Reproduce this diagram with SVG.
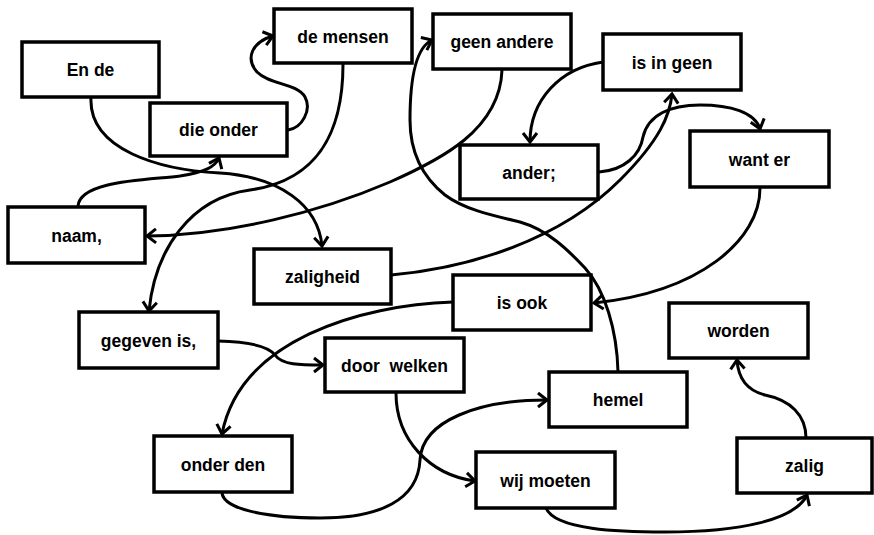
<svg xmlns="http://www.w3.org/2000/svg" width="874" height="535" viewBox="0 0 874 535">
<style>
.box{fill:#fff;stroke:#000;stroke-width:3.5}
.lbl{font-family:"Liberation Sans",Arial,sans-serif;font-weight:bold;font-size:17.5px;fill:#000;text-anchor:middle;white-space:pre}
.c{fill:none;stroke:#000;stroke-width:3;marker-end:url(#ah)}
</style>
<defs>
<marker id="ah" markerUnits="userSpaceOnUse" markerWidth="20" markerHeight="20" refX="0" refY="0" viewBox="-12 -10 14 20" orient="auto">
<path d="M-9 -7 L0 0 L-9 7" fill="none" stroke="#000" stroke-width="3"/>
</marker>
</defs>
<rect width="874" height="535" fill="#fff"/>
<g id="connectors">
<path class="c" d="M91 97 C88 150,160 170,220 173 C280 177,318 205,322 246"/>
<path class="c" d="M391 275 C470 268,560 240,620 180 C660 140,670 115,672 94"/>
<path class="c" d="M603 62 C560 68,530 100,530 142"/>
<path class="c" d="M599 172 C625 170,640 155,643 137 C648 115,670 105,700 105 C730 105,755 112,760 129"/>
<path class="c" d="M760 188 C760 240,700 292,594 303"/>
<path class="c" d="M453 302 C360 305,240 340,222 434"/>
<path class="c" d="M222 493 C224 510,270 518,320 518 C380 518,418 500,420 460 C422 420,480 400,547 400"/>
<path class="c" d="M618 372 C617 330,605 290,585 268 C568 250,548 230,520 222 C495 216,465 210,445 195 C420 175,410 150,410 120 C410 80,415 48,432 40"/>
<path class="c" d="M502 70 C500 130,440 160,390 182 C320 212,230 235,147 236"/>
<path class="c" d="M78 206 C80 180,150 180,180 176 C205 172,215 167,219 158"/>
<path class="c" d="M288 130 C302 128,312 110,305 97 C297 83,270 85,257 72 C245 58,252 42,273 36"/>
<path class="c" d="M343 64 C343 130,320 180,250 190 C190 198,155 250,149 311"/>
<path class="c" d="M218 341 C255 342,270 348,275 355 C282 365,300 365,323 365"/>
<path class="c" d="M396 393 C396 440,430 475,475 481"/>
<path class="c" d="M546 508 C555 530,620 532,665 532 C740 532,795 520,807 495"/>
<path class="c" d="M806 438 C806 415,790 400,765 395 C745 390,738 375,737 360"/>
</g>
<g id="n-en-de"><rect class="box" x="22" y="42" width="137" height="55"/><text class="lbl" x="90.5" y="76">En de</text></g>
<g id="n-die-onder"><rect class="box" x="150" y="103" width="137" height="53"/><text class="lbl" x="218.5" y="136">die onder</text></g>
<g id="n-de-mensen"><rect class="box" x="274" y="9" width="138" height="54"/><text class="lbl" x="343" y="42.5">de mensen</text></g>
<g id="n-geen-andere"><rect class="box" x="433" y="14" width="138" height="55"/><text class="lbl" x="502" y="48">geen andere</text></g>
<g id="n-is-in-geen"><rect class="box" x="603" y="34" width="138" height="56"/><text class="lbl" x="672" y="68.5">is in geen</text></g>
<g id="n-ander"><rect class="box" x="460" y="145" width="138" height="54"/><text class="lbl" x="529" y="178.5">ander;</text></g>
<g id="n-want-er"><rect class="box" x="690" y="131" width="139" height="56"/><text class="lbl" x="759.5" y="165.5">want er</text></g>
<g id="n-naam"><rect class="box" x="8" y="207" width="137" height="56"/><text class="lbl" x="76.5" y="241.5">naam,</text></g>
<g id="n-zaligheid"><rect class="box" x="254" y="249" width="137" height="55"/><text class="lbl" x="322.5" y="283">zaligheid</text></g>
<g id="n-is-ook"><rect class="box" x="453" y="275" width="138" height="55"/><text class="lbl" x="522" y="309">is ook</text></g>
<g id="n-gegeven-is"><rect class="box" x="79" y="312" width="139" height="56"/><text class="lbl" x="148.5" y="346.5">gegeven is,</text></g>
<g id="n-door-welken"><rect class="box" x="325" y="338" width="139" height="54"/><text class="lbl" x="394.5" y="371.5">door  welken</text></g>
<g id="n-worden"><rect class="box" x="669" y="303" width="139" height="55"/><text class="lbl" x="738.5" y="337">worden</text></g>
<g id="n-hemel"><rect class="box" x="549" y="372" width="138" height="55"/><text class="lbl" x="618" y="406">hemel</text></g>
<g id="n-onder-den"><rect class="box" x="154" y="436" width="138" height="56"/><text class="lbl" x="223" y="470.5">onder den</text></g>
<g id="n-wij-moeten"><rect class="box" x="476" y="452" width="139" height="56"/><text class="lbl" x="545.5" y="486.5">wij moeten</text></g>
<g id="n-zalig"><rect class="box" x="737" y="438" width="135" height="55"/><text class="lbl" x="804.5" y="472">zalig</text></g>
</svg>
